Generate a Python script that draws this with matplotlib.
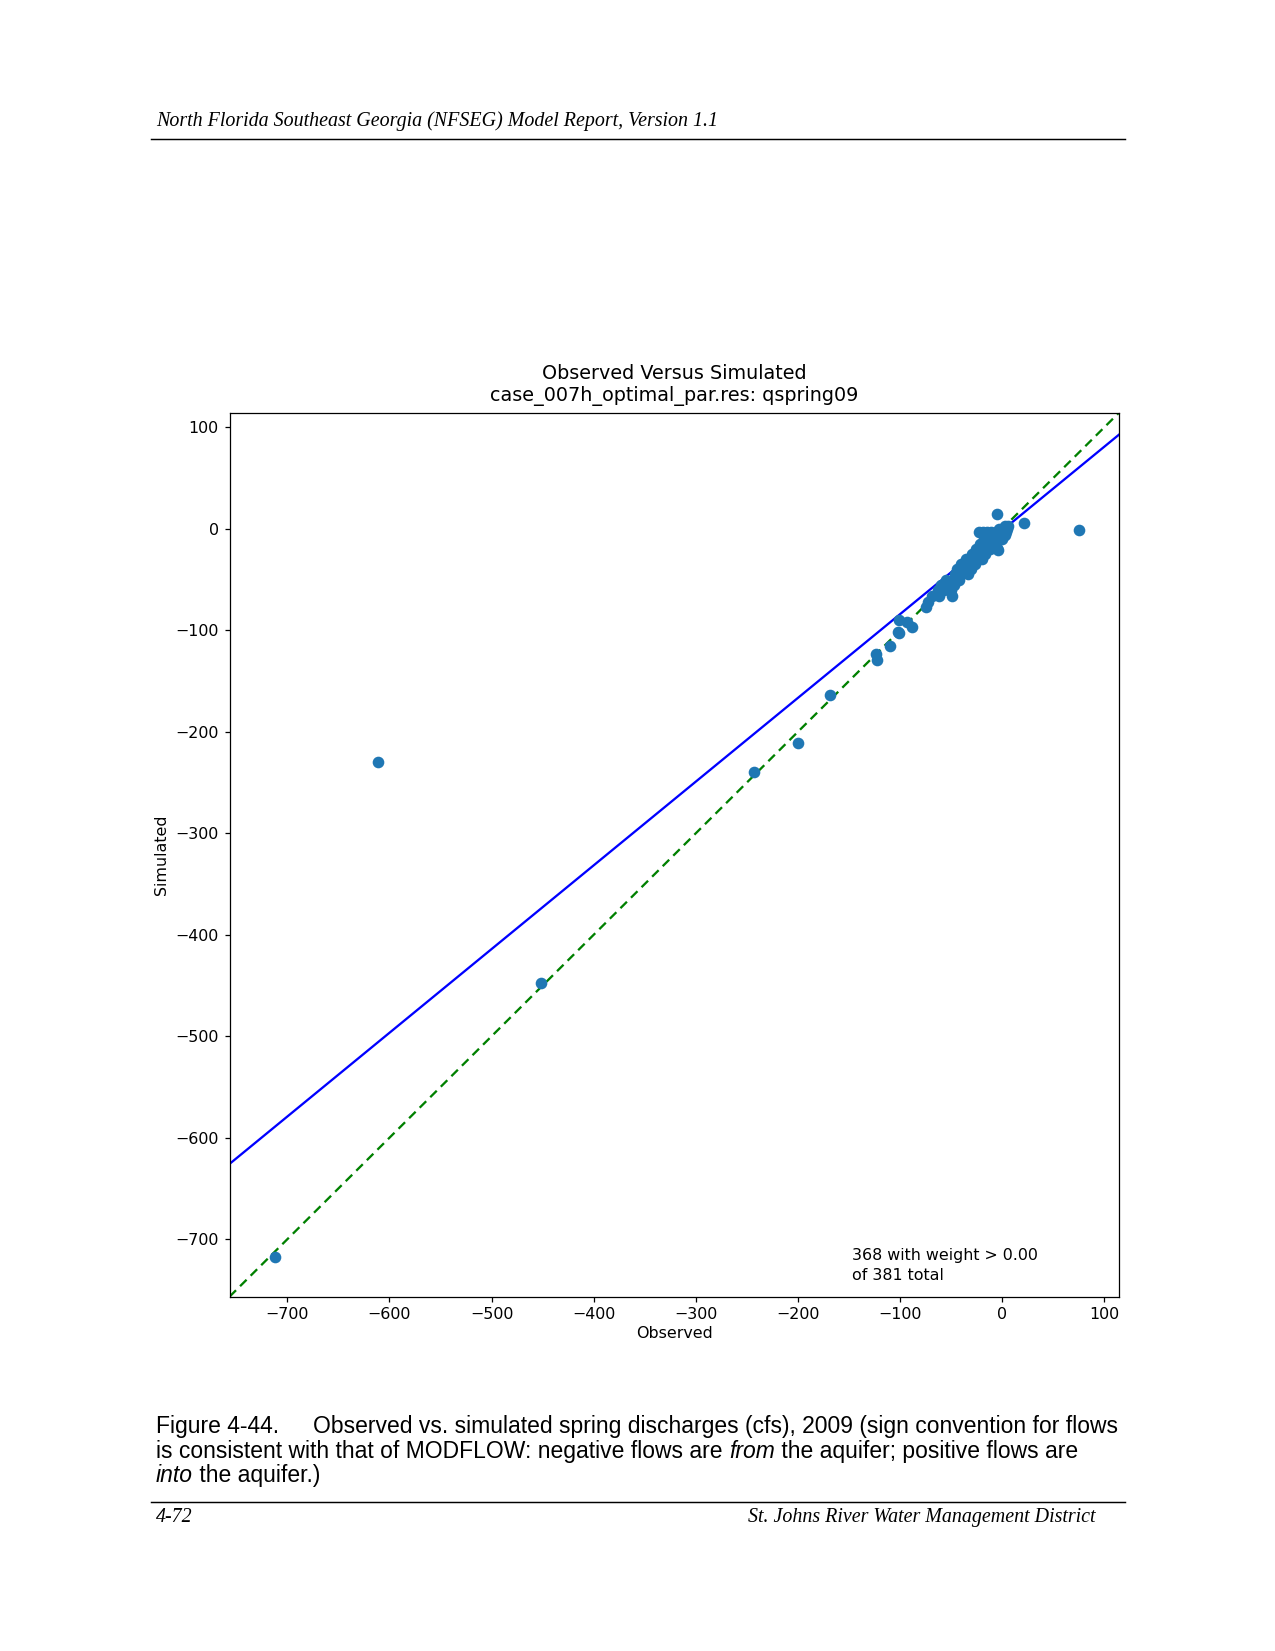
import numpy as np
import matplotlib
matplotlib.use("Agg")
import matplotlib.pyplot as plt

observed = [
    # punti isolati
    -712.5, -611, -452, -243, -200, -169, -124, -123, -110, -102, -101, -101, -93, -88,
    -75, -73, -69, -62, -49, -5, -4, -5, 21.5, 74.8,
    # nuvola vicino allo zero
    -63, -57, -50, -60, -52, -47, -55, -48, -42, -46, -40, -33, -44, -38, -31,
    -40, -33, -27, -35, -28, -20, -30, -24, -17, -26, -19, -12, -22, -15, -8,
    -18, -12, -5, 0, -14, -8, -2, 3, -23, -19, -15, -11, -6, 0, 4, -3, 2, 5, 3, 6,
]
simulated = [
    -717, -230, -448, -240, -211, -164, -123, -129, -115, -102, -90, -103, -92, -97,
    -77, -72, -66, -66, -66, -19, -21, 14.5, 5.5, -0.8,
    -60, -60, -60, -55, -55, -55, -50, -50, -50, -45, -45, -45, -40, -40, -40,
    -35, -35, -35, -30, -30, -30, -25, -25, -25, -20, -20, -20, -15, -15, -15,
    -10, -10, -10, -10, -6, -6, -6, -6, -3, -3, -3, -3, -3, -3, -3, 0, 0, 0, 3, 3,
]

# retta di regressione
fit_slope = 0.825
fit_intercept = -1.6

chart_title = "Observed Versus Simulated\ncase_007h_optimal_par.res: qspring09"
note_text = "368 with weight > 0.00\nof 381 total"

W, H = 1275, 1651
DPI = 150

fig = plt.figure(figsize=(W / DPI, H / DPI), dpi=DPI)


def px(x, y):
    return x / W, 1 - y / H


# === Grafico ===
ax = fig.add_axes([229.5 / W, 1 - 1296.7 / H, (1119 - 229.5) / W, (1296.7 - 412.7) / H])

allv = np.array(observed + simulated)
lo, hi = allv.min(), allv.max()
pad = 0.05 * (hi - lo)
lims = (lo - pad, hi + pad)

ax.scatter(observed, simulated, s=21, color="#1f77b4", zorder=3)
xx = np.array(lims)
ax.plot(xx, fit_slope * xx + fit_intercept, color="blue", lw=1.1, zorder=2)
ax.plot(xx, xx, color="green", ls="--", lw=1.1, dashes=(4, 2.5), zorder=2)

ax.set_xlim(lims)
ax.set_ylim(lims)
ax.set_xticks(np.arange(-700, 101, 100))
ax.set_yticks(np.arange(-700, 101, 100))
ax.tick_params(labelsize=7.6, length=2.6, width=0.6, pad=2.5)
for sp in ax.spines.values():
    sp.set_linewidth(0.6)
ax.set_xlabel("Observed", fontsize=7.6, labelpad=2)
ax.set_ylabel("Simulated", fontsize=7.6, labelpad=3)
ax.set_title(chart_title, fontsize=9.2, pad=5.5)
ax.text(0.70, 0.016, note_text, transform=ax.transAxes, fontsize=7.6,
        ha="left", va="bottom", linespacing=1.35)

# === Testo della pagina ===
serif_it = dict(family="Liberation Serif", style="italic", fontsize=9.6)
fig.text(*px(156, 126), "North Florida Southeast Georgia (NFSEG) Model Report, Version 1.1",
         ha="left", va="baseline", **serif_it)
fig.add_artist(plt.Line2D([150.5 / W, 1124.5 / W], [1 - 139 / H] * 2, color="black", lw=0.7))
fig.add_artist(plt.Line2D([150.5 / W, 1124.5 / W], [1 - 1502.4 / H] * 2, color="black", lw=0.7))
fig.text(*px(156, 1522), "4-72", ha="left", va="baseline", **serif_it)
fig.text(*px(1095, 1522), "St. Johns River Water Management District",
         ha="right", va="baseline", **serif_it)

renderer = fig.canvas.get_renderer()


def write_runs(x0, y0, runs, size=11):
    x = x0
    for s, italic in runs:
        t = fig.text(*px(x, y0), s, ha="left", va="baseline", family="Liberation Sans",
                     style="italic" if italic else "normal", fontsize=size)
        bb = t.get_window_extent(renderer)
        x += bb.width


fig.text(*px(156, 1433), "Figure 4-44.", ha="left", va="baseline",
         family="Liberation Sans", fontsize=11)
write_runs(313, 1433, [("Observed vs. simulated spring discharges (cfs), 2009 (sign convention for flows", False)])
write_runs(156, 1458, [("is consistent with that of MODFLOW: negative flows are ", False), ("from", True),
                       (" the aquifer; positive flows are", False)])
write_runs(156, 1482, [("into", True), (" the aquifer.)", False)])

fig.savefig("out.png", dpi=DPI)
